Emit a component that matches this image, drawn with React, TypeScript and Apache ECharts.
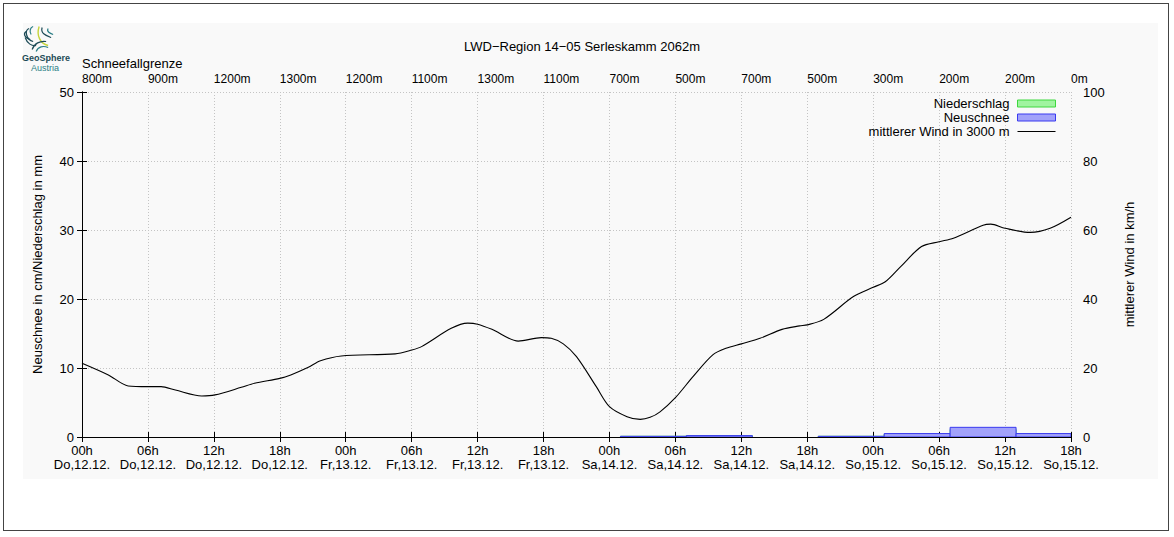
import React, { useEffect, useRef } from "react";
import * as echarts from "echarts";

const FONT = "'Liberation Sans', Arial, Helvetica, sans-serif";

const hourLabels = ["00h", "06h", "12h", "18h", "00h", "06h", "12h", "18h", "00h", "06h", "12h", "18h", "00h", "06h", "12h", "18h"];
const dayLabels = [
  "Do,12.12.", "Do,12.12.", "Do,12.12.", "Do,12.12.",
  "Fr,13.12.", "Fr,13.12.", "Fr,13.12.", "Fr,13.12.",
  "Sa,14.12.", "Sa,14.12.", "Sa,14.12.", "Sa,14.12.",
  "So,15.12.", "So,15.12.", "So,15.12.", "So,15.12.",
];
const snowLineLabels = ["800m", "900m", "1200m", "1300m", "1200m", "1100m", "1300m", "1100m", "700m", "500m", "700m", "500m", "300m", "200m", "200m", "0m"];

// hours since Do 12.12. 00h
const windHours = [0, 2.4, 4.2, 6, 7.2, 8.5, 10.9, 12.1, 14.5, 15.7, 18, 19, 20.6, 21.7, 23.6, 28.5, 30, 30.9, 33.6, 35.1, 36, 37.3, 39.7, 41.8, 42.7, 43.8, 45, 46.8, 48, 49.6, 50.8, 51.7, 52.6, 54, 55.6, 57.4, 58.6, 60, 61.7, 63.7, 65.3, 66, 67.5, 70.2, 72, 73.1, 74.5, 76.4, 78, 79.3, 82, 82.7, 84, 86.3, 88.1, 90];
const windKmh = [21.4, 18.0, 14.8, 14.6, 14.6, 13.6, 11.9, 12.2, 14.4, 15.6, 17.0, 18.0, 20.2, 22.1, 23.5, 24.1, 25.2, 26.2, 31.5, 33.0, 32.7, 31.2, 27.8, 28.8, 28.6, 27.0, 23.3, 14.6, 8.8, 5.9, 5.1, 5.7, 7.3, 11.4, 17.5, 23.8, 25.7, 27.0, 28.6, 31.2, 32.2, 32.5, 34.1, 40.7, 43.4, 45.0, 49.4, 55.2, 56.6, 57.6, 61.4, 61.7, 60.5, 59.3, 60.5, 63.7];

// 6h precipitation intervals (start hour, end hour)
const barStart = [49, 55, 61, 67, 73, 79, 85];
const barEnd = [55, 61, 67, 73, 79, 85, 90];
const neuschneeCm = [0.1, 0.2, 0, 0.1, 0.5, 1.4, 0.5];
const niederschlagMm = [0.1, 0.2, 0, 0.1, 0.4, 1.1, 0.4];

const GREEN_FILL = "#a0f4a0";
const GREEN_LINE = "#3ed83e";
const BLUE_FILL = "#a2a2fa";
const BLUE_LINE = "#3a3af0";

function barSeries(name: string, values: number[], fill: string, stroke: string) {
  return {
    name,
    type: "custom",
    xAxisIndex: 0,
    yAxisIndex: 0,
    clip: true,
    itemStyle: { color: fill, borderColor: stroke, borderWidth: 1 },
    encode: { x: [0, 1], y: 2 },
    data: barStart.map((s, i) => [s, barEnd[i], values[i]]),
    renderItem: (params: any, api: any) => {
      const v = api.value(2);
      if (!v) return null;
      const p0 = api.coord([api.value(0), 0]);
      const p1 = api.coord([api.value(1), v]);
      return {
        type: "rect",
        shape: { x: p0[0], y: p1[1], width: p1[0] - p0[0], height: p0[1] - p1[1] },
        style: { fill, stroke, lineWidth: 1 },
      };
    },
  };
}

export default function App() {
  const ref = useRef<HTMLDivElement>(null);

  useEffect(() => {
    if (!ref.current) return;
    const chart = echarts.init(ref.current, undefined, { renderer: "svg" });
    const grid = "#c4c4c4";
    const tickStyle = { show: true, inside: true, length: 5, lineStyle: { color: "#000", width: 1 } };
    const axisLine = { show: true, lineStyle: { color: "#000", width: 1 } };

    chart.setOption({
      animation: false,
      textStyle: { fontFamily: FONT },
      title: {
        text: "LWD\u2212Region 14\u221205 Serleskamm 2062m",
        left: 577,
        top: 35,
        textAlign: "center",
        textStyle: { fontSize: 13, fontWeight: "normal", color: "#000", fontFamily: FONT },
      },
      legend: {
        orient: "vertical",
        right: 118,
        top: 97,
        align: "right",
        padding: 0,
        itemGap: 1,
        itemWidth: 38,
        itemHeight: 7,
        symbolKeepAspect: true,
        textStyle: { fontSize: 13, color: "#000", fontFamily: FONT, lineHeight: 13, padding: [0, 3, 0, 0] },
        data: [
          { name: "Niederschlag", icon: "rect", itemStyle: { color: GREEN_FILL, borderColor: GREEN_LINE, borderWidth: 1 } },
          { name: "Neuschnee", icon: "rect", itemStyle: { color: BLUE_FILL, borderColor: BLUE_LINE, borderWidth: 1 } },
          { name: "mittlerer Wind in 3000 m", icon: "path://M0,0H38V1H0Z", itemStyle: { color: "#000", borderWidth: 0 } },
        ],
      },
      grid: { left: 82, right: 103, top: 92, bottom: 100, containLabel: false },
      xAxis: [
        {
          type: "value",
          min: 0,
          max: 90,
          interval: 6,
          position: "bottom",
          axisLine,
          axisTick: tickStyle,
          splitLine: { show: true, lineStyle: { color: grid, type: [1, 2], width: 1 } },
          axisLabel: {
            fontSize: 13,
            color: "#000",
            fontFamily: FONT,
            lineHeight: 14,
            margin: 6,
            showMinLabel: true,
            showMaxLabel: true,
            formatter: (v: number) => {
              const i = Math.round(v / 6);
              return hourLabels[i] + "\n" + dayLabels[i];
            },
          },
        },
        {
          type: "value",
          min: 0,
          max: 90,
          interval: 6,
          position: "top",
          axisLine,
          axisTick: tickStyle,
          splitLine: { show: false },
          axisLabel: {
            fontSize: 12,
            color: "#000",
            fontFamily: FONT,
            align: "left",
            margin: 7,
            showMinLabel: true,
            showMaxLabel: true,
            formatter: (v: number) => snowLineLabels[Math.round(v / 6)],
          },
        },
      ],
      yAxis: [
        {
          type: "value",
          min: 0,
          max: 50,
          interval: 10,
          position: "left",
          name: "Neuschnee in cm/Niederschlag in mm",
          nameLocation: "middle",
          nameRotate: 90,
          nameGap: 38,
          nameTextStyle: { fontSize: 13, color: "#000", fontFamily: FONT },
          axisLine,
          axisTick: tickStyle,
          splitLine: { show: true, lineStyle: { color: grid, type: [1, 2], width: 1 } },
          axisLabel: { fontSize: 13, color: "#000", fontFamily: FONT, margin: 8 },
        },
        {
          type: "value",
          min: 0,
          max: 100,
          interval: 20,
          position: "right",
          name: "mittlerer Wind in km/h",
          nameLocation: "middle",
          nameRotate: 90,
          nameGap: 52,
          nameTextStyle: { fontSize: 13, color: "#000", fontFamily: FONT },
          axisLine,
          axisTick: tickStyle,
          splitLine: { show: false },
          axisLabel: { fontSize: 13, color: "#000", fontFamily: FONT, margin: 12 },
        },
      ],
      graphic: [
        {
          type: "text",
          left: 82,
          top: 57,
          style: { text: "Schneefallgrenze", font: `13px ${FONT}`, fill: "#000" },
        },
        {
          type: "group",
          left: 22,
          top: 24,
          children: [
            { type: "bezierCurve", shape: { x1: 12, y1: 14, x2: 8, y2: 6, cpx1: 6, cpy1: 12, cpx2: 5, cpy2: 8 }, style: { stroke: "#1d4b57", lineWidth: 1.2, fill: null } },
            { type: "bezierCurve", shape: { x1: 15, y1: 16, x2: 11, y2: 3, cpx1: 8, cpy1: 14, cpx2: 6, cpy2: 5 }, style: { stroke: "#1d4b57", lineWidth: 1.2, fill: null } },
            { type: "bezierCurve", shape: { x1: 13, y1: 9, x2: 15, y2: 1, cpx1: 11, cpy1: 6, cpx2: 12, cpy2: 2 }, style: { stroke: "#2b7f86", lineWidth: 1.2, fill: null } },
            { type: "bezierCurve", shape: { x1: 21, y1: 1, x2: 30, y2: 20, cpx1: 18, cpy1: 10, cpx2: 22, cpy2: 18 }, style: { stroke: "#c5d43b", lineWidth: 1.4, fill: null } },
            { type: "bezierCurve", shape: { x1: 24, y1: 2, x2: 33, y2: 12, cpx1: 22, cpy1: 8, cpx2: 28, cpy2: 10 }, style: { stroke: "#1d4b57", lineWidth: 1.2, fill: null } },
            { type: "bezierCurve", shape: { x1: 30, y1: 3, x2: 35, y2: 9, cpx1: 28, cpy1: 6, cpx2: 32, cpy2: 8 }, style: { stroke: "#2b7f86", lineWidth: 1.2, fill: null } },
            { type: "bezierCurve", shape: { x1: 14, y1: 24, x2: 28, y2: 16, cpx1: 16, cpy1: 18, cpx2: 22, cpy2: 15 }, style: { stroke: "#1d4b57", lineWidth: 1.2, fill: null } },
            { type: "bezierCurve", shape: { x1: 18, y1: 26, x2: 30, y2: 22, cpx1: 20, cpy1: 21, cpx2: 25, cpy2: 20 }, style: { stroke: "#2b7f86", lineWidth: 1.2, fill: null } },
            { type: "bezierCurve", shape: { x1: 7, y1: 12, x2: 18, y2: 20, cpx1: 9, cpy1: 18, cpx2: 14, cpy2: 21 }, style: { stroke: "#1d4b57", lineWidth: 1.2, fill: null } },
          ],
        },
        {
          type: "text",
          left: 22,
          top: 53,
          style: { text: "GeoSphere", font: `bold 9px ${FONT}`, fill: "#1d4b57" },
        },
        {
          type: "text",
          left: 31,
          top: 63,
          style: { text: "Austria", font: `9px ${FONT}`, fill: "#2b7f86" },
        },
      ],
      series: [
        barSeries("Niederschlag", niederschlagMm, GREEN_FILL, GREEN_LINE),
        barSeries("Neuschnee", neuschneeCm, BLUE_FILL, BLUE_LINE),
        {
          name: "mittlerer Wind in 3000 m",
          type: "line",
          xAxisIndex: 0,
          yAxisIndex: 1,
          symbol: "none",
          smooth: 0.3,
          lineStyle: { color: "#000", width: 1.1 },
          itemStyle: { color: "#000" },
          data: windHours.map((h, i) => [h, windKmh[i]]),
        },
      ],
    });
    return () => chart.dispose();
  }, []);

  return (
    <div style={{ position: "fixed", left: 0, top: 0, width: 1174, height: 537, background: "#fff" }}>
      <div style={{ position: "absolute", left: 3, top: 3, width: 1166, height: 528, border: "1.5px solid #444", boxSizing: "border-box" }} />
      <div style={{ position: "absolute", left: 23, top: 23, width: 1135, height: 456, background: "#f9f9f9" }} />
      <div ref={ref} style={{ position: "absolute", left: 0, top: 0, width: 1174, height: 537 }} />
    </div>
  );
}
